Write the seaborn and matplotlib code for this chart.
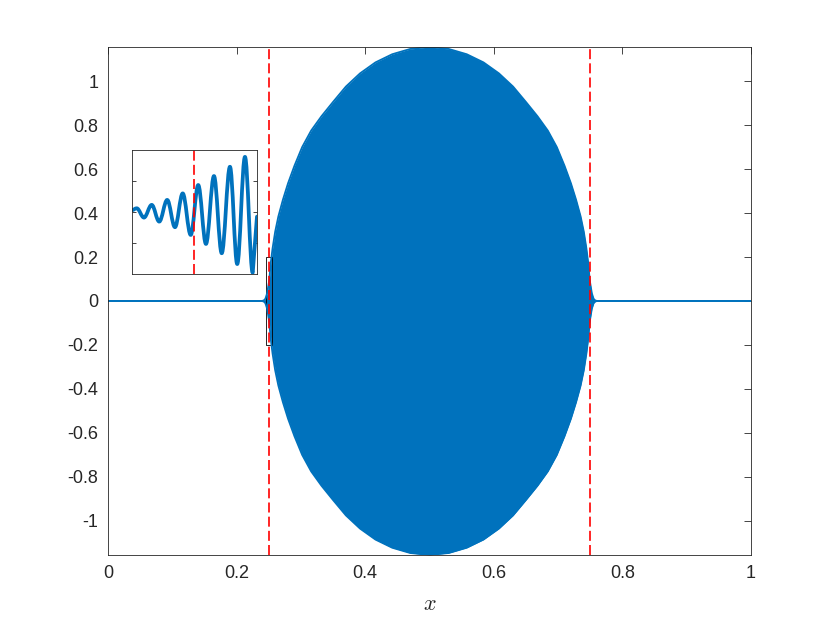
import numpy as np
import matplotlib
matplotlib.use('Agg')
import matplotlib.pyplot as plt
import seaborn as sns
from matplotlib.patches import Rectangle, PathPatch
from matplotlib.path import Path
from matplotlib.ticker import FuncFormatter

# envelope of the (very dense) oscillating solution
env_x = [0.0, 0.240, 0.2435, 0.245, 0.2475, 0.250, 0.251, 0.253, 0.256, 0.260,
         0.265, 0.272, 0.280, 0.290, 0.302, 0.316, 0.332, 0.350, 0.370,
         0.392, 0.416, 0.442, 0.470, 0.500, 0.530, 0.558, 0.584, 0.608,
         0.630, 0.650, 0.668, 0.684, 0.698, 0.710, 0.720, 0.728, 0.735,
         0.740, 0.744, 0.747, 0.749, 0.750, 0.7525, 0.755, 0.7565, 0.760, 1.0]
env_amp = [0.0, 0.0, 0.005, 0.012, 0.035, 0.08, 0.10, 0.17, 0.24, 0.315,
           0.385, 0.46, 0.535, 0.615, 0.70, 0.775, 0.84, 0.905, 0.975,
           1.035, 1.085, 1.122, 1.146, 1.155, 1.146, 1.122, 1.085, 1.035,
           0.975, 0.905, 0.84, 0.775, 0.70, 0.615, 0.535, 0.46, 0.385,
           0.315, 0.24, 0.17, 0.10, 0.08, 0.035, 0.012, 0.005, 0.0, 0.0]

# zoomed view around x = 0.25: start, local extrema, end
ins_x = [0.24500, 0.24538, 0.24596, 0.24658, 0.24718, 0.24782, 0.24844,
         0.24906, 0.24970, 0.25030, 0.25092, 0.25156, 0.25218, 0.25284,
         0.25342, 0.25404, 0.25466, 0.25500]
ins_y = [0.006, 0.012, -0.018, 0.023, -0.031, 0.039, -0.049,
         0.060, -0.074, 0.087, -0.103, 0.116, -0.133, 0.146,
         -0.168, 0.178, -0.196, -0.015]

interfaces = [0.25, 0.75]
zoom_xlim = [0.245, 0.255]
zoom_ylim = [-0.2, 0.2]
x_ticks = [0, 0.2, 0.4, 0.6, 0.8, 1]
y_ticks = [-1, -0.8, -0.6, -0.4, -0.2, 0, 0.2, 0.4, 0.6, 0.8, 1]
inset_yticks = [-0.1, 0, 0.1]

blue = '#0072BD'
axcol = '#262626'

sns.set_style('white')
plt.rcParams['font.family'] = ['Liberation Sans', 'DejaVu Sans']
plt.rcParams['mathtext.fontset'] = 'cm'
plt.rcParams['axes.unicode_minus'] = False

fig = plt.figure(figsize=(8.3, 6.24), dpi=100)
ax = fig.add_axes([0.1301, 0.1106, 0.7747, 0.8141])

env_x = np.array(env_x)
env_amp = np.array(env_amp)
ax.fill_between(env_x, -env_amp, env_amp, color=blue, lw=0)
sns.lineplot(x=env_x, y=env_amp, color=blue, lw=1.3, sort=False, ax=ax)
sns.lineplot(x=env_x, y=-env_amp, color=blue, lw=1.3, sort=False, ax=ax)
for xv in interfaces:
    ax.axvline(xv, color='red', lw=1.2, dashes=(6, 2.5))
ax.add_patch(Rectangle((zoom_xlim[0], zoom_ylim[0]), zoom_xlim[1] - zoom_xlim[0],
                       zoom_ylim[1] - zoom_ylim[0], fill=False, ec='black', lw=0.6))

ax.set_xlim(0, 1)
ax.set_ylim(-1.155, 1.155)
ax.set_xticks(x_ticks)
ax.set_yticks(y_ticks)
fmt = FuncFormatter(lambda v, p: '%g' % v)
ax.xaxis.set_major_formatter(fmt)
ax.yaxis.set_major_formatter(fmt)
ax.tick_params(direction='in', length=5, width=0.6, color=axcol, labelsize=13,
               labelcolor=axcol, top=True, right=True, pad=7)
for s in ax.spines.values():
    s.set_color(axcol)
    s.set_linewidth(0.6)
ax.set_xlabel('$x$', fontsize=16, color=axcol, labelpad=9)

# inset: smooth curve through the extrema (horizontal tangents at extrema)
axi = fig.add_axes([0.159, 0.5609, 0.1506, 0.1987])
verts = [(ins_x[0], ins_y[0])]
codes = [Path.MOVETO]
for i in range(1, len(ins_x) - 1):
    x0, y0 = ins_x[i - 1], ins_y[i - 1]
    x1, y1 = ins_x[i], ins_y[i]
    d = x1 - x0
    verts += [(x0 + 0.3642 * d, y0), (x1 - 0.3642 * d, y1), (x1, y1)]
    codes += [Path.CURVE4] * 3
verts.append((ins_x[-1], ins_y[-1]))
codes.append(Path.LINETO)
axi.add_patch(PathPatch(Path(verts, codes), fill=False, ec=blue, lw=2.7,
                        capstyle='round', joinstyle='round'))
axi.axvline(interfaces[0], color='red', lw=1.2, dashes=(6, 2.5))
axi.set_xlim(zoom_xlim)
axi.set_ylim(zoom_ylim)
axi.set_xticks([])
axi.set_yticks(inset_yticks)
axi.set_yticklabels([])
axi.tick_params(direction='in', length=3, width=0.6, color=axcol, left=True, right=True)
for s in axi.spines.values():
    s.set_color(axcol)
    s.set_linewidth(0.6)

fig.savefig('out.png', dpi=100)
